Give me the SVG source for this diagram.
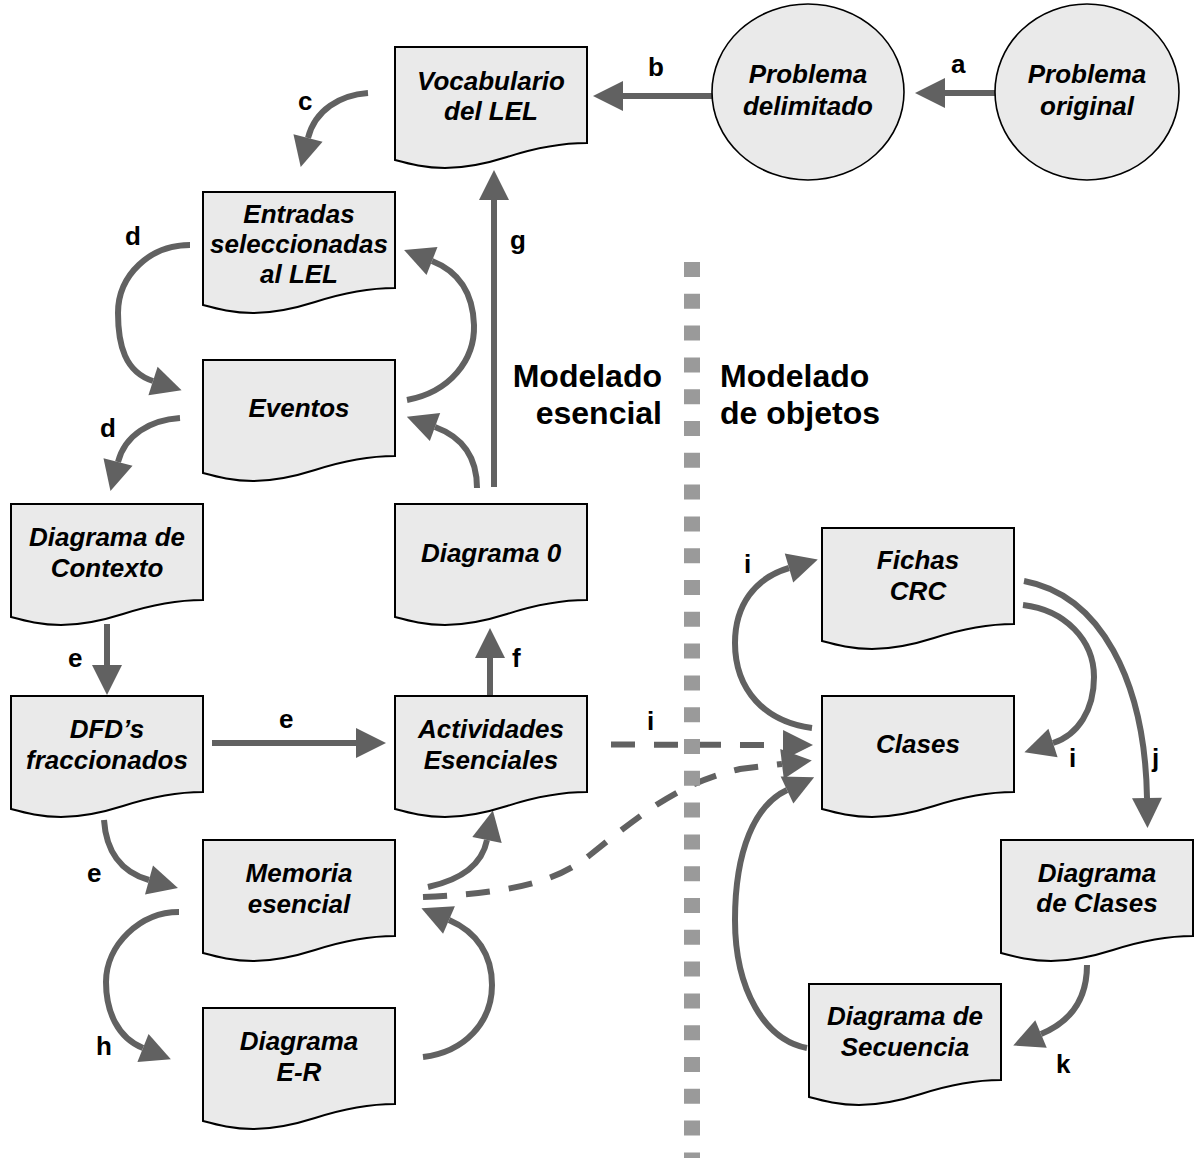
<svg xmlns="http://www.w3.org/2000/svg" xmlns:xlink="http://www.w3.org/1999/xlink" width="1194" height="1158" viewBox="0 0 1194 1158">
<style>
.doc{fill:#eaeaea;stroke:#000;stroke-width:2}
.ell{fill:#eaeaea;stroke:#000;stroke-width:1.6}
.nt{font-family:"Liberation Sans",Arial,sans-serif;font-size:26px;font-weight:bold;font-style:italic;text-anchor:middle;fill:#000}
.lb{font-family:"Liberation Sans",Arial,sans-serif;font-size:26px;font-weight:bold;fill:#000}
.hd{font-family:"Liberation Sans",Arial,sans-serif;font-size:32px;font-weight:bold;fill:#000}
.ar{fill:none;stroke:#616161;stroke-width:6;marker-end:url(#ah)}
.da{stroke-dasharray:24 19}
</style>
<defs>
<marker id="ah" markerUnits="userSpaceOnUse" markerWidth="30" markerHeight="30" refX="0" refY="15" orient="auto" overflow="visible">
<path d="M0,0 L30,15 L0,30 Z" fill="#616161"/>
</marker>
<path id="doc" class="doc" d="M0,0 H192 V96 C165,96 140,101 112,110 C90,117 70,121 50,121 C30,121 15,117 0,113 Z"/>
</defs>
<rect width="1194" height="1158" fill="#fff"/>

<g id="connectors">
<line class="ar" x1="995" y1="93" x2="945" y2="93"/>
<line class="ar" x1="712" y1="96" x2="623" y2="96"/>
<path class="ar" d="M368,93 C340,95 315,110 308,138"/>
<line class="ar" x1="494" y1="487" x2="494" y2="200"/>
<path class="ar" d="M190,245 C150,245 118,275 118,313 C118,345 125,372 153,381"/>
<path class="ar" d="M180,418 C150,420 125,435 118,462"/>
<path class="ar" d="M407,400 C450,392 475,360 474,325 C473,295 460,272 432,261"/>
<path class="ar" d="M477,488 C477,460 465,438 435,427"/>
<line class="ar" x1="107" y1="624" x2="107" y2="665"/>
<line class="ar" x1="212" y1="743" x2="356" y2="743"/>
<line class="ar" x1="490" y1="695" x2="490" y2="658"/>
<path class="ar" d="M104,820 C106,850 120,872 149,880"/>
<path class="ar" d="M179,912 C140,912 106,945 106,982 C106,1012 118,1038 143,1048"/>
<path class="ar" d="M428,887 C460,880 482,865 487,840"/>
<path class="ar" d="M423,1057 C465,1052 492,1022 492,985 C492,955 477,932 449,920"/>
<path class="ar da" d="M611,744.5 L783,745"/>
<path class="ar da" d="M423,897 C510,893 555,883 590,855 C640,815 680,782 740,769 L782,764"/>
<path class="ar" d="M807,1048 C765,1040 735,990 735,920 C735,850 755,805 787,790"/>
<path class="ar" d="M812,728 C765,722 735,690 735,643 C735,605 755,578 789,568"/>
<path class="ar" d="M1023,605 C1065,610 1094,640 1094,677 C1094,710 1078,735 1053,743"/>
<path class="ar" d="M1024,581 C1100,595 1145,680 1147,798"/>
<path class="ar" d="M1087,965 C1087,1000 1070,1022 1041,1034"/>
</g>

<g id="labels">
<text class="lb" x="951" y="73">a</text>
<text class="lb" x="648" y="76">b</text>
<text class="lb" x="298" y="110">c</text>
<text class="lb" x="125" y="245">d</text>
<text class="lb" x="100" y="437">d</text>
<text class="lb" x="510" y="249">g</text>
<text class="lb" x="68" y="667">e</text>
<text class="lb" x="279" y="728">e</text>
<text class="lb" x="512" y="667">f</text>
<text class="lb" x="87" y="882">e</text>
<text class="lb" x="96" y="1055">h</text>
<text class="lb" x="647" y="730">i</text>
<text class="lb" x="744" y="573">i</text>
<text class="lb" x="1069" y="767">i</text>
<text class="lb" x="1152" y="767">j</text>
<text class="lb" x="1056" y="1073">k</text>
<text class="hd" x="662" y="387" text-anchor="end">Modelado</text>
<text class="hd" x="662" y="424" text-anchor="end">esencial</text>
<text class="hd" x="720" y="387">Modelado</text>
<text class="hd" x="720" y="424">de objetos</text>
</g>

<line id="divider" x1="692" y1="262" x2="692" y2="1158" stroke="#9a9a9a" stroke-width="16" stroke-dasharray="15 16.8"/>

<g id="n-problema-original">
<ellipse class="ell" cx="1087" cy="92" rx="92" ry="88"/>
<text class="nt" x="1087" y="83">Problema</text>
<text class="nt" x="1087" y="115">original</text>
</g>
<g id="n-problema-delimitado">
<ellipse class="ell" cx="808" cy="92" rx="96" ry="88"/>
<text class="nt" x="808" y="83">Problema</text>
<text class="nt" x="808" y="115">delimitado</text>
</g>
<g id="n-vocabulario" transform="translate(395,47)">
<use href="#doc"/>
<text class="nt" x="96" y="43">Vocabulario</text>
<text class="nt" x="96" y="73">del LEL</text>
</g>
<g id="n-entradas" transform="translate(203,192)">
<use href="#doc"/>
<text class="nt" x="96" y="31">Entradas</text>
<text class="nt" x="96" y="61">seleccionadas</text>
<text class="nt" x="96" y="91">al LEL</text>
</g>
<g id="n-eventos" transform="translate(203,360)">
<use href="#doc"/>
<text class="nt" x="96" y="57">Eventos</text>
</g>
<g id="n-contexto" transform="translate(11,504)">
<use href="#doc"/>
<text class="nt" x="96" y="42">Diagrama de</text>
<text class="nt" x="96" y="73">Contexto</text>
</g>
<g id="n-diagrama0" transform="translate(395,504)">
<use href="#doc"/>
<text class="nt" x="96" y="58">Diagrama 0</text>
</g>
<g id="n-dfd" transform="translate(11,696)">
<use href="#doc"/>
<text class="nt" x="96" y="42">DFD’s</text>
<text class="nt" x="96" y="73">fraccionados</text>
</g>
<g id="n-actividades" transform="translate(395,696)">
<use href="#doc"/>
<text class="nt" x="96" y="42">Actividades</text>
<text class="nt" x="96" y="73">Esenciales</text>
</g>
<g id="n-memoria" transform="translate(203,840)">
<use href="#doc"/>
<text class="nt" x="96" y="42">Memoria</text>
<text class="nt" x="96" y="73">esencial</text>
</g>
<g id="n-er" transform="translate(203,1008)">
<use href="#doc"/>
<text class="nt" x="96" y="42">Diagrama</text>
<text class="nt" x="96" y="73">E-R</text>
</g>
<g id="n-fichas" transform="translate(822,528)">
<use href="#doc"/>
<text class="nt" x="96" y="41">Fichas</text>
<text class="nt" x="96" y="72">CRC</text>
</g>
<g id="n-clases" transform="translate(822,696)">
<use href="#doc"/>
<text class="nt" x="96" y="57">Clases</text>
</g>
<g id="n-diagrama-clases" transform="translate(1001,840)">
<use href="#doc"/>
<text class="nt" x="96" y="42">Diagrama</text>
<text class="nt" x="96" y="72">de Clases</text>
</g>
<g id="n-secuencia" transform="translate(809,984)">
<use href="#doc"/>
<text class="nt" x="96" y="41">Diagrama de</text>
<text class="nt" x="96" y="72">Secuencia</text>
</g>
</svg>
